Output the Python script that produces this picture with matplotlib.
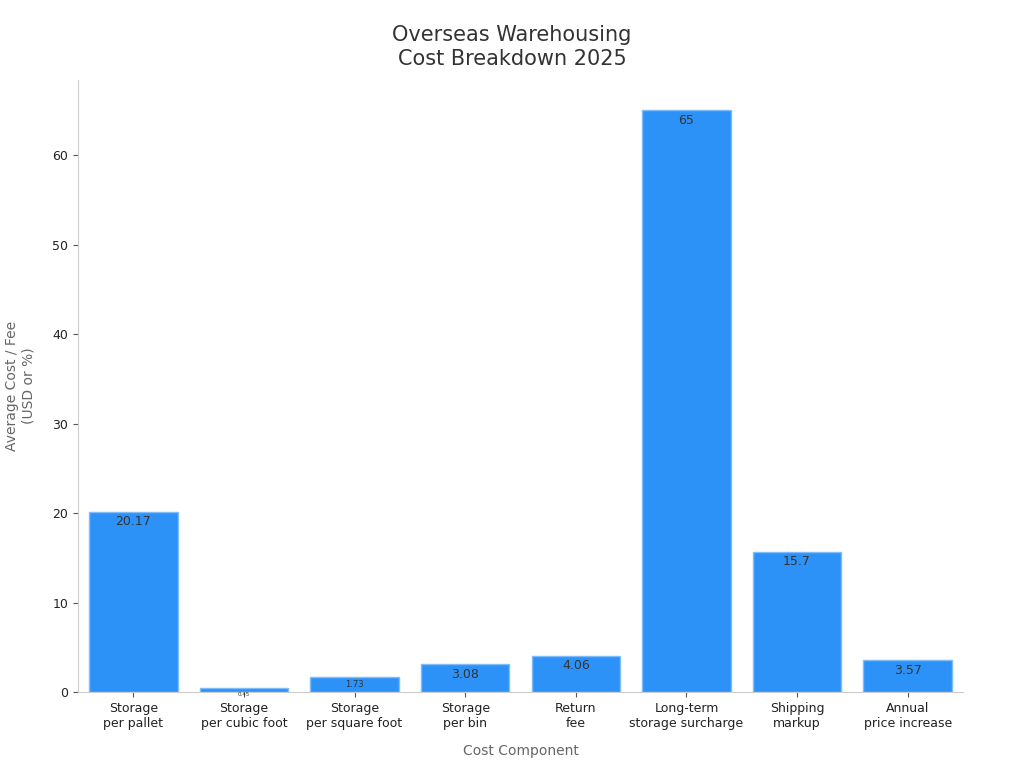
import matplotlib
matplotlib.use("Agg")
import matplotlib.pyplot as plt

categories = ["Storage\nper pallet", "Storage\nper cubic foot", "Storage\nper square foot",
              "Storage\nper bin", "Return\nfee", "Long-term\nstorage surcharge",
              "Shipping\nmarkup", "Annual\nprice increase"]
values = [20.17, 0.45, 1.73, 3.08, 4.06, 65, 15.7, 3.57]
labels = ["20.17", "0.45", "1.73", "3.08", "4.06", "65", "15.7", "3.57"]

fig = plt.figure(figsize=(10.24, 7.68), dpi=100)
ax = fig.add_axes([78/1024, 1-692/768, (963-78)/1024, (692-80)/768])
x = range(len(values))
bars = ax.bar(x, values, width=0.8, color="#2d92f8", edgecolor="#7fbcfa", linewidth=1)
for b, v, lab in zip(bars, values, labels):
    fs = 9 if v >= 2.5 else (6 if v >= 1 else 4)
    ax.text(b.get_x()+b.get_width()/2, v - 0.4, lab, ha="center", va="top",
            fontsize=fs, color="#333333")
ax.set_xlim(-0.5, 7.5)
ax.set_ylim(0, 68.4)
ax.set_xticks(list(x))
ax.set_xticklabels(categories, fontsize=9, color="#222222")
ax.set_yticks([0, 10, 20, 30, 40, 50, 60])
ax.tick_params(axis="y", labelsize=9, colors="#222222")
ax.tick_params(axis="both", color="#555555")
for s in ["top", "right"]:
    ax.spines[s].set_visible(False)
for s in ["left", "bottom"]:
    ax.spines[s].set_color("#cccccc")
ax.set_xlabel("Cost Component", fontsize=10, color="#666666", labelpad=10)
ax.set_ylabel("Average Cost / Fee\n(USD or %)", fontsize=10, color="#666666", labelpad=12)
fig.suptitle("Overseas Warehousing\nCost Breakdown 2025", fontsize=15, color="#333333",
             y=0.968, linespacing=1.3)
fig.savefig("out.png", dpi=100)
